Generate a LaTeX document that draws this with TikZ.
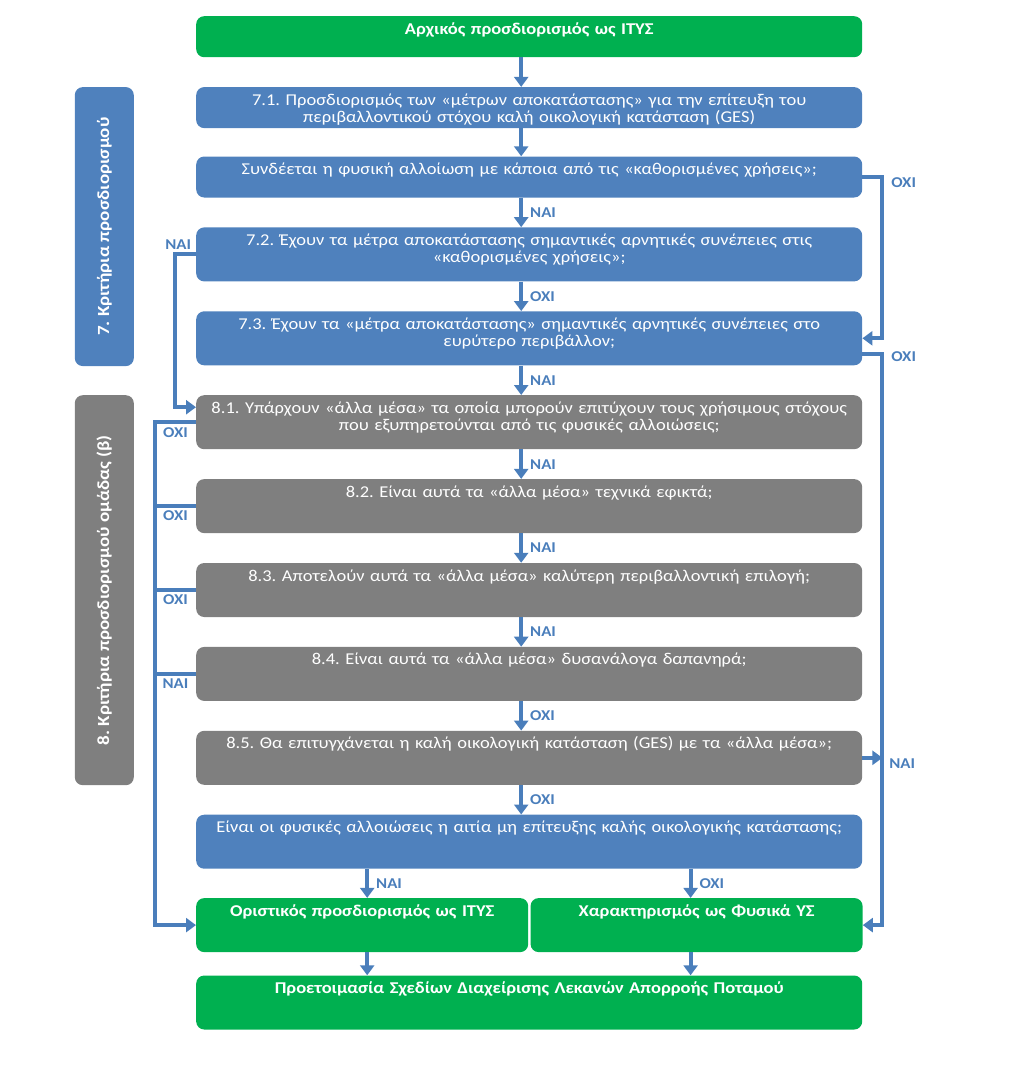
\documentclass[tikz,border=0pt]{standalone}
\usepackage{fontspec}
\setmainfont{Carlito}[FakeStretch=1.12]
\usetikzlibrary{positioning, arrows.meta}

\definecolor{boxblue}{HTML}{4F81BD}
\definecolor{boxgrey}{HTML}{7F7F7F}
\definecolor{boxgreen}{HTML}{00B050}
\definecolor{lineblue}{HTML}{4A7EBB}

\frenchspacing
\begin{document}
\begin{tikzpicture}[
        node distance=29.5pt,
        box/.style={rectangle, rounded corners=8pt, inner sep=0pt, text width=666pt, align=center,
            text=white, text height=18pt, text depth=36pt, font=\fontsize{16.5}{17.5}\selectfont},
        short/.style={text depth=23pt},
        half/.style={text width=332pt},
        bluebox/.style={box, fill=boxblue},
        greybox/.style={box, fill=boxgrey},
        greenbox/.style={box, fill=boxgreen, font=\fontsize{16.5}{18}\selectfont\bfseries},
        sidebox/.style={rectangle, rounded corners=8pt, inner sep=0pt, minimum width=59pt,
            text=white, font=\fontsize{17}{18}\selectfont\bfseries},
        line/.style={draw=lineblue, line width=4pt},
        arr/.style={line, -{Triangle[length=10pt, width=14pt]}},
        lbl/.style={text=lineblue, inner sep=1pt, font=\fontsize{15}{16}\selectfont\bfseries}
    ]
    \useasboundingbox (0,0) rectangle (1024pt,-1069pt);

    % Main column
    \node[greenbox, short, anchor=north west] (start) at (196pt,-16pt) {Αρχικός προσδιορισμός ως ΙΤΥΣ};
    \node[bluebox, short, below=of start] (m71) {7.1. Προσδιορισμός των «μέτρων αποκατάστασης» για την επίτευξη του\\περιβαλλοντικού στόχου καλή οικολογική κατάσταση (GES)};
    \node[bluebox, short, below=28pt of m71] (uses) {Συνδέεται η φυσική αλλοίωση με κάποια από τις «καθορισμένες χρήσεις»;};
    \node[bluebox, below=of uses] (m72) {7.2. Έχουν τα μέτρα αποκατάστασης σημαντικές αρνητικές συνέπειες στις\\«καθορισμένες χρήσεις»;};
    \node[bluebox, below=of m72] (m73) {7.3. Έχουν τα «μέτρα αποκατάστασης» σημαντικές αρνητικές συνέπειες στο\\ευρύτερο περιβάλλον;};

    % Group 8
    \node[greybox, below=of m73] (m81) {8.1. Υπάρχουν «άλλα μέσα» τα οποία μπορούν επιτύχουν τους χρήσιμους στόχους\\που εξυπηρετούνται από τις φυσικές αλλοιώσεις;};
    \node[greybox, below=of m81] (m82) {8.2. Είναι αυτά τα «άλλα μέσα» τεχνικά εφικτά;};
    \node[greybox, below=of m82] (m83) {8.3. Αποτελούν αυτά τα «άλλα μέσα» καλύτερη περιβαλλοντική επιλογή;};
    \node[greybox, below=of m83] (m84) {8.4. Είναι αυτά τα «άλλα μέσα» δυσανάλογα δαπανηρά;};
    \node[greybox, below=of m84] (m85) {8.5. Θα επιτυγχάνεται η καλή οικολογική κατάσταση (GES) με τα «άλλα μέσα»;};
    \node[bluebox, below=of m85] (cause) {Είναι οι φυσικές αλλοιώσεις η αιτία μη επίτευξης καλής οικολογικής κατάστασης;};

    % Outcomes
    \node[greenbox, half, below=29pt of cause.south west, anchor=north west] (final) {Οριστικός προσδιορισμός ως ΙΤΥΣ};
    \node[greenbox, half, right=2pt of final] (natural) {Χαρακτηρισμός ως Φυσικά ΥΣ};
    \node[greenbox, below=23pt of final.south west, anchor=north west] (plans) {Προετοιμασία Σχεδίων Διαχείρισης Λεκανών Απορροής Ποταμού};

    % Side labels
    \node[sidebox, fill=boxblue, minimum height=279pt, anchor=north east] (side7) at ([xshift=-62pt]m71.north west) {\rotatebox{90}{7. Κριτήρια προσδιορισμού}};
    \node[sidebox, fill=boxgrey, minimum height=390pt, anchor=north east] (side8) at ([xshift=-62pt]m81.north west) {\rotatebox{90}{8. Κριτήρια προσδιορισμού ομάδας (β)}};

    % Helper coordinates for the side lines
    \coordinate (rx) at ([xshift=20pt]m73.east);
    \coordinate (lx) at ([xshift=-41pt]m81.west);

    % Vertical arrows
    \draw[arr] ([xshift=-8pt]start.south) -- ([xshift=-8pt]m71.north);
    \draw[arr] ([xshift=-8pt]m71.south) -- ([xshift=-8pt]uses.north);
    \draw[arr] ([xshift=-8pt]uses.south) -- ([xshift=-8pt]m72.north) node[lbl, midway, right=6pt] {ΝΑΙ};
    \draw[arr] ([xshift=-8pt]m72.south) -- ([xshift=-8pt]m73.north) node[lbl, midway, right=6pt] {ΟΧΙ};
    \draw[arr] ([xshift=-8pt]m73.south) -- ([xshift=-8pt]m81.north) node[lbl, midway, right=6pt] {ΝΑΙ};
    \draw[arr] ([xshift=-8pt]m81.south) -- ([xshift=-8pt]m82.north) node[lbl, midway, right=6pt] {ΝΑΙ};
    \draw[arr] ([xshift=-8pt]m82.south) -- ([xshift=-8pt]m83.north) node[lbl, midway, right=6pt] {ΝΑΙ};
    \draw[arr] ([xshift=-8pt]m83.south) -- ([xshift=-8pt]m84.north) node[lbl, midway, right=6pt] {ΝΑΙ};
    \draw[arr] ([xshift=-8pt]m84.south) -- ([xshift=-8pt]m85.north) node[lbl, midway, right=6pt] {ΟΧΙ};
    \draw[arr] ([xshift=-8pt]m85.south) -- ([xshift=-8pt]cause.north) node[lbl, midway, right=6pt] {ΟΧΙ};
    \draw[arr] ([xshift=5pt]cause.south -| final.north) -- ([xshift=5pt]final.north) node[lbl, midway, right=6pt] {ΝΑΙ};
    \draw[arr] ([xshift=-6pt]cause.south -| natural.north) -- ([xshift=-6pt]natural.north) node[lbl, midway, right=6pt] {ΟΧΙ};
    \draw[arr] ([xshift=5pt]final.south) -- ([xshift=5pt]final.south |- plans.north);
    \draw[arr] ([xshift=-6pt]natural.south) -- ([xshift=-6pt]natural.south |- plans.north);

    % Right side
    \draw[arr] (uses.east) -- ++(20pt,0) node[lbl, right=6pt, yshift=-6pt] {ΟΧΙ} |- (m73.east);
    \draw[arr] ([yshift=-16pt]m73.east) -- ++(20pt,0) node[lbl, right=6pt, yshift=-2pt] {ΟΧΙ} |- (natural.east);
    \draw[arr] (m85.east) -- (m85.east -| rx) node[lbl, right=4pt, yshift=-6pt] {ΝΑΙ};

    % Left side
    \draw[arr] (m72.west) -- ++(-21pt,0) node[lbl, pos=0.85, above=2pt] {ΝΑΙ} |- ([yshift=15pt]m81.west);
    \draw[arr] (m81.west) -- (lx) node[lbl, pos=0.5, below=2pt] {ΟΧΙ} |- (final.west);
    \draw[line] (m82.west) -- (m82.west -| lx) node[lbl, midway, below=2pt] {ΟΧΙ};
    \draw[line] (m83.west) -- (m83.west -| lx) node[lbl, midway, below=2pt] {ΟΧΙ};
    \draw[line] (m84.west) -- (m84.west -| lx) node[lbl, midway, below=2pt] {ΝΑΙ};

\end{tikzpicture}
\end{document}
